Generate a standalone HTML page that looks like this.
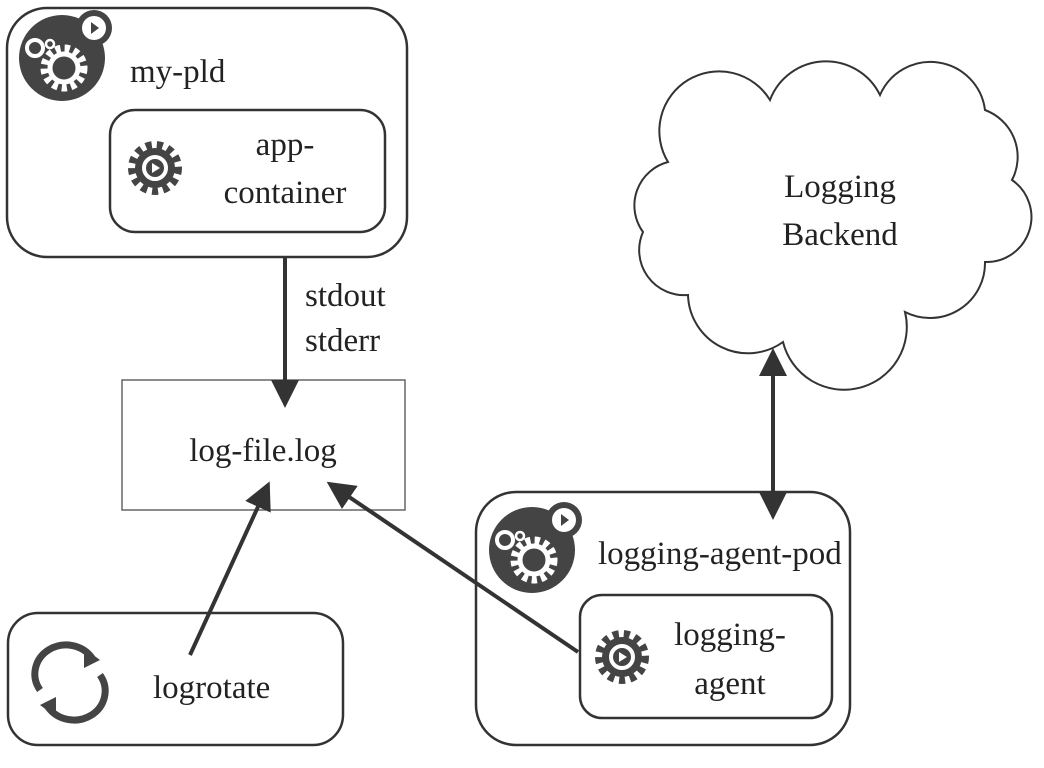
<!DOCTYPE html>
<html><head><style>
body{margin:0;background:#fff}
svg{display:block}
text{font-family:"Liberation Serif",serif;font-size:33px;fill:#222}
</style></head><body>
<svg width="1044" height="768" viewBox="0 0 1044 768">
<defs>
<marker id="a" markerWidth="8" markerHeight="8" refX="6" refY="4" orient="auto" markerUnits="strokeWidth"><path d="M0,0.5 L7,4 L0,7.5 Z" fill="#333"/></marker>
<marker id="b" markerWidth="8" markerHeight="8" refX="1" refY="4" orient="auto" markerUnits="strokeWidth"><path d="M7,0.5 L0,4 L7,7.5 Z" fill="#333"/></marker>
<g id="pod">
<circle cx="0" cy="0" r="43" fill="#444"/>
<circle cx="32" cy="-30" r="18" fill="#444"/>
<circle cx="32" cy="-30" r="12" fill="#fff"/>
<path d="M29,-36 L37,-30 L29,-24Z" fill="#444"/>
<circle cx="-27" cy="-10" r="8" fill="none" stroke="#fff" stroke-width="4"/>
<circle cx="-12" cy="-14" r="4" fill="none" stroke="#fff" stroke-width="2.5"/>
<circle cx="2" cy="10" r="19" fill="none" stroke="#fff" stroke-width="9" stroke-dasharray="5 4"/>
<circle cx="2" cy="10" r="14" fill="none" stroke="#fff" stroke-width="5"/>
</g>
<g id="gear">
<circle cx="0" cy="0" r="23" fill="none" stroke="#444" stroke-width="8" stroke-dasharray="6 5"/>
<circle cx="0" cy="0" r="20" fill="#444"/>
<circle cx="0" cy="0" r="11" fill="none" stroke="#fff" stroke-width="4"/>
<path d="M-3,-5 L5,0 L-3,5Z" fill="#fff"/>
</g>
</defs>
<g fill="none" stroke="#333" stroke-width="2.5">
<rect x="7" y="8" width="400" height="249" rx="40"/>
<rect x="110" y="110" width="275" height="122" rx="25"/>
<rect x="122" y="380" width="283" height="130" stroke="#666" stroke-width="1.5"/>
<rect x="8" y="613" width="335" height="132" rx="30"/>
<rect x="476" y="492" width="374" height="253" rx="40"/>
<rect x="580" y="595" width="252" height="123" rx="22"/>
<path d="M668,162 A55,55 0 0 1 770,100 A60,60 0 0 1 880,95 A55,55 0 0 1 985,110 A50,50 0 0 1 1012,180 A45,45 0 0 1 985,262 A55,55 0 0 1 905,312 A60,60 0 0 1 783,342 A60,60 0 0 1 688,295 A45,45 0 0 1 643,232 A45,45 0 0 1 668,162 Z" stroke-width="2"/>
</g>
<g stroke="#333" stroke-width="4" fill="none">
<line x1="285" y1="257" x2="285" y2="404" marker-end="url(#a)"/>
<line x1="773" y1="352" x2="773" y2="516" marker-start="url(#b)" marker-end="url(#a)"/>
<line x1="190" y1="655" x2="268" y2="485" marker-end="url(#a)"/>
<line x1="578" y1="652" x2="330" y2="484" marker-end="url(#a)"/>
</g>
<use href="#pod" x="62" y="58"/>
<use href="#pod" x="532" y="550"/>
<use href="#gear" x="155" y="168"/>
<use href="#gear" x="622" y="657"/>
<g fill="none" stroke="#444" stroke-width="7">
<path d="M40,690 A30,28 0 0 1 92,658"/>
<path d="M100,675 A30,28 0 0 1 48,707"/>
</g>
<path d="M84,648 L100,660 L84,668Z M56,717 L40,705 L56,697Z" fill="#444"/>
<text x="130" y="82">my-pld</text>
<text x="285" y="155" text-anchor="middle">app-</text>
<text x="285" y="203" text-anchor="middle">container</text>
<text x="305" y="306">stdout</text>
<text x="305" y="351">stderr</text>
<text x="263" y="461" text-anchor="middle">log-file.log</text>
<text x="153" y="698">logrotate</text>
<text x="840" y="197" text-anchor="middle">Logging</text>
<text x="840" y="245" text-anchor="middle">Backend</text>
<text x="598" y="564">logging-agent-pod</text>
<text x="730" y="645" text-anchor="middle">logging-</text>
<text x="730" y="694" text-anchor="middle">agent</text>
</svg>
</body></html>
